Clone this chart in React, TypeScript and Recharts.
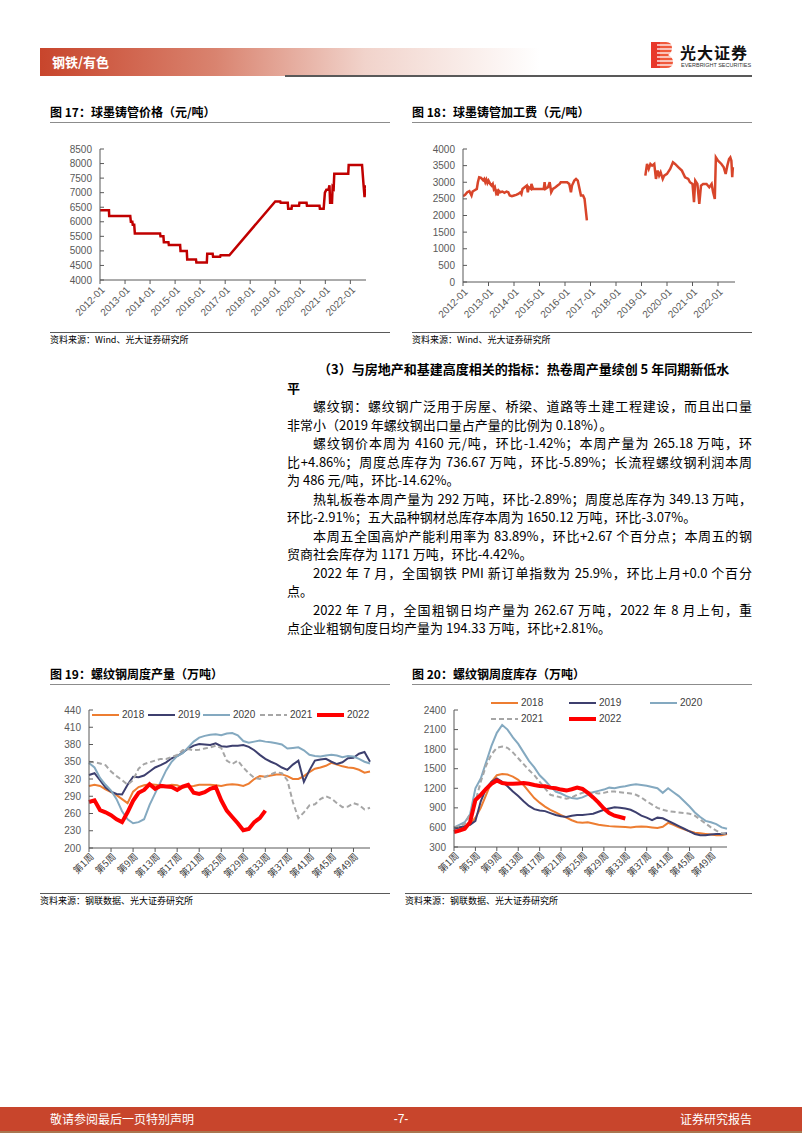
import { Line, LineChart, XAxis, YAxis } from "recharts";

const CJK = '"Noto Sans CJK SC", "Noto Sans", sans-serif';
const NUM = '"Liberation Sans", Arial, sans-serif';

// 图17 / 图18: x 轴为自 2012-01 起的月数
const yearTicks = [0, 12, 24, 36, 48, 60, 72, 84, 96, 108, 120];
const yearLabels = ['2012-01', '2013-01', '2014-01', '2015-01', '2016-01', '2017-01', '2018-01', '2019-01', '2020-01', '2021-01', '2022-01'];

const priceMonth = [0, 4.3, 4.4, 14.5, 14.8, 15.5, 15.7, 16.4, 16.7, 28.8, 29, 30.4, 30.6, 32.8, 33, 38.4, 38.6, 41.6, 41.8, 46, 46.2, 51.2, 51.4, 54, 54.2, 57.6, 57.8, 62, 84, 86.4, 86.6, 90, 90.2, 91.8, 92, 95.4, 95.6, 99, 99.2, 105.2, 105.4, 107.2, 107.8, 108.5, 109.5, 110, 110.3, 111.2, 111.5, 112, 112.3, 119, 119.2, 125.6, 126.4, 126.8, 127.3, 127.5];
const priceValue = [6400, 6400, 6200, 6200, 6000, 6000, 5900, 5900, 5600, 5600, 5500, 5500, 5300, 5300, 5200, 5200, 5000, 5000, 4700, 4700, 4600, 4600, 4900, 4900, 4800, 4800, 4850, 4850, 6700, 6700, 6650, 6650, 6450, 6450, 6550, 6550, 6650, 6650, 6550, 6550, 6450, 6450, 7000, 7100, 7100, 7250, 6650, 6650, 7200, 7150, 7650, 7650, 7950, 7950, 7200, 6850, 7250, 7150];
const priceTicks = [4000, 4500, 5000, 5500, 6000, 6500, 7000, 7500, 8000, 8500];

const feeSeg1: [number, number][] = [[0, 2580], [1, 2620], [2, 2700], [3, 2730], [4, 2600], [4.5, 2720], [5.5, 2760], [6.5, 2800], [7, 3000], [7.6, 3150], [8.5, 3130], [9.5, 3060], [10, 3100], [10.5, 3000], [11, 3080], [11.5, 2980], [12, 3050], [12.8, 2950], [13.5, 2900], [14, 2950], [14.5, 2800], [15, 2850], [15.5, 2700], [16, 2780], [16.3, 2600], [16.8, 2750], [17.5, 2700], [18.5, 2720], [19.5, 2680], [20.5, 2720], [21.3, 2700], [22, 2600], [23, 2580], [24, 2600], [25, 2620], [26, 2650], [27, 2700], [27.5, 2650], [28, 2800], [29, 2850], [30, 2900], [30.5, 2700], [31, 2850], [32, 2800], [32.2, 2950], [33, 2800], [34, 2800], [35, 2800], [36, 2800], [37, 2800], [38, 2800], [38.4, 3000], [38.8, 2800], [40, 2850], [40.8, 3000], [41.5, 2700], [42.3, 2800], [43.5, 2850], [44.5, 2900], [45.5, 2950], [46, 3000], [47, 3000], [48, 3000], [49, 3000], [50, 2950], [50.8, 2700], [51.3, 2900], [52.4, 3050], [53.2, 3100], [54, 3050], [54.5, 2900], [55.5, 2600], [56.5, 2600], [57.2, 2500], [58.3, 1850]];
const feeSeg2: [number, number][] = [[85.8, 3200], [86.6, 3550], [87.4, 3400], [88.2, 3550], [89, 3500], [90, 3550], [90.8, 3100], [91.6, 3350], [92.3, 3200], [93, 3300], [94, 3100], [94.7, 3200], [96, 3250], [97.5, 3400], [98.8, 3600], [99.8, 3550], [101.4, 3450], [103, 3350], [104.5, 3150], [106, 3100], [106.8, 3000], [108, 2950], [108.7, 2400], [109.3, 3050], [110.3, 2950], [111.2, 2350], [112, 2900], [113, 2950], [114.6, 2950], [115.9, 2850], [117, 2950], [117.7, 2700], [118.5, 2500], [119, 3750], [120, 3650], [121.6, 3550], [122.7, 3450], [123.6, 3250], [124.4, 3500], [125.2, 3700], [125.8, 3750], [126.3, 3650], [126.7, 3150], [127, 3450]];
const feeTicks = [0, 500, 1000, 1500, 2000, 2500, 3000, 3500, 4000];

// 图19 / 图20: 周度数据
const weekLabels = Array.from({ length: 52 }, (_, i) => `第${i + 1}周`);

const prod2018 = [308, 310, 308, 302, 297, 292, 285, 278, 298, 306, 309, 311, 310, 309, 308, 310, 309, 305, 307, 308, 310, 310, 310, 309, 308, 310, 311, 310, 308, 312, 320, 325, 324, 326, 328, 328, 325, 320, 320, 325, 332, 338, 340, 343, 348, 345, 342, 340, 339, 336, 331, 333];
const prod2019 = [327, 330, 318, 305, 298, 294, 293, 310, 324, 323, 326, 333, 340, 344, 349, 356, 360, 366, 373, 378, 381, 380, 379, 382, 377, 376, 378, 378, 379, 376, 370, 362, 355, 350, 346, 340, 336, 345, 352, 315, 335, 352, 354, 355, 350, 346, 349, 356, 357, 364, 367, 350];
const prod2020 = [348, 340, 322, 310, 300, 285, 264, 250, 243, 245, 250, 275, 295, 315, 335, 350, 360, 365, 375, 385, 392, 395, 397, 398, 396, 399, 400, 396, 386, 383, 385, 387, 385, 384, 382, 380, 373, 374, 375, 370, 362, 360, 359, 361, 362, 361, 358, 360, 359, 355, 350, 347];
const prod2021 = [350, 349, 347, 344, 333, 325, 318, 310, 318, 338, 346, 349, 352, 355, 355, 358, 362, 370, 372, 370, 371, 373, 375, 378, 374, 352, 346, 352, 340, 330, 322, 320, 324, 328, 332, 330, 318, 280, 252, 262, 274, 276, 285, 290, 286, 278, 271, 272, 278, 275, 267, 270];
const prod2022 = [280, 283, 266, 262, 257, 250, 245, 262, 282, 296, 301, 311, 303, 308, 307, 306, 301, 307, 310, 296, 294, 297, 303, 306, 283, 265, 254, 243, 231, 233, 245, 252, 265];
const prodTicks = [200, 230, 260, 290, 320, 350, 380, 410, 440];

const stock2018 = [580, 600, 620, 650, 750, 900, 1100, 1300, 1400, 1420, 1410, 1380, 1330, 1250, 1150, 1050, 980, 920, 870, 830, 790, 750, 710, 680, 670, 680, 660, 640, 630, 620, 615, 610, 605, 600, 610, 615, 610, 600, 590, 610, 670, 640, 600, 570, 540, 520, 510, 500, 490, 480, 480, 500];
const stock2019 = [580, 600, 620, 640, 700, 1000, 1200, 1300, 1350, 1300, 1230, 1150, 1080, 1000, 930, 880, 860, 850, 820, 790, 770, 760, 780, 790, 790, 800, 810, 840, 870, 890, 910, 900, 890, 870, 830, 780, 750, 710, 750, 740, 700, 660, 620, 580, 540, 500, 480, 480, 490, 500, 500, 510];
const stock2020 = [600, 640, 680, 800, 1200, 1350, 1600, 1850, 2050, 2170, 2100, 1980, 1880, 1750, 1620, 1520, 1400, 1320, 1230, 1150, 1120, 1080, 1050, 1040, 1060, 1100, 1140, 1160, 1180, 1210, 1200, 1220, 1230, 1250, 1260, 1250, 1240, 1220, 1200, 1130, 1200, 1140, 1080, 1000, 920, 830, 760, 700, 680, 650, 600, 580];
const stock2021 = [600, 620, 650, 800, 1000, 1300, 1550, 1720, 1820, 1840, 1820, 1750, 1660, 1570, 1480, 1400, 1300, 1200, 1100, 1080, 1060, 1040, 1060, 1100, 1130, 1140, 1130, 1120, 1130, 1150, 1150, 1140, 1130, 1120, 1100, 1060, 1000, 950, 900, 870, 850, 840, 830, 820, 810, 780, 720, 660, 600, 550, 510, 500];
const stock2022 = [530, 550, 580, 680, 1020, 1100, 1190, 1270, 1320, 1280, 1270, 1270, 1275, 1280, 1270, 1250, 1235, 1230, 1210, 1200, 1180, 1165, 1185, 1210, 1190, 1130, 1060, 980, 890, 820, 780, 760, 737];
const stockTicks = [300, 600, 900, 1200, 1500, 1800, 2100, 2400];

const C2018 = '#ed7d31';
const C2019 = '#3d3f6e';
const C2020 = '#84a9c0';
const C2021 = '#a6a6a6';
const C2022 = '#ff0000';

const priceData = priceMonth.map((t, i) => ({ t, v: priceValue[i] }));
const feeData = [
  ...feeSeg1.map(([t, v]) => ({ t, v })),
  { t: 72, v: null },
  ...feeSeg2.map(([t, v]) => ({ t, v })),
];
const prodData = weekLabels.map((w, i) => ({ w, a: prod2018[i], b: prod2019[i], c: prod2020[i], d: prod2021[i], e: prod2022[i] }));
const stockData = weekLabels.map((w, i) => ({ w, a: stock2018[i], b: stock2019[i], c: stock2020[i], d: stock2021[i], e: stock2022[i] }));

const axisStroke = '#595959';
const tickStyle = { fontSize: 10, fill: '#595959', fontFamily: NUM };

const YearTick = ({ x, y, payload }: any) => {
  const i = yearTicks.indexOf(payload.value);
  return (
    <g transform={`translate(${x + 3},${y + 4})`}>
      <text x={0} y={0} dy="0.35em" textAnchor="end" transform="rotate(-45)" fontSize={10} fill="#595959" fontFamily={NUM}>
        {yearLabels[i]}
      </text>
    </g>
  );
};

const WeekTick = ({ x, y, payload }: any) => (
  <g transform={`translate(${x + 3},${y + 3})`}>
    <text x={0} y={0} dy="0.35em" textAnchor="end" transform="rotate(-45)" fontSize={9.5} fill="#404040" fontFamily={CJK}>
      {payload.value}
    </text>
  </g>
);

const Title = ({ x, y, w, text }: { x: number; y: number; w: number; text: string }) => (
  <div style={{ position: 'absolute', left: x, top: y, width: w, borderBottom: '1.5px solid #8c8c8c', paddingBottom: 2, fontFamily: CJK, fontWeight: 700, fontSize: 12, lineHeight: '16px', color: '#000' }}>
    {text}
  </div>
);

const Source = ({ x, y, w, text }: { x: number; y: number; w: number; text: string }) => (
  <div style={{ position: 'absolute', left: x, top: y, width: w, borderTop: '1px solid #595959', paddingTop: 1, fontFamily: CJK, fontSize: 9, lineHeight: '12px', color: '#000' }}>
    {text}
  </div>
);

const LegendItem = ({ x, y, color, width, dash, label }: any) => (
  <div style={{ position: 'absolute', left: x, top: y - 6, height: 12, display: 'flex', alignItems: 'center' }}>
    <svg width={27} height={8}>
      <line x1={0} y1={4} x2={27} y2={4} stroke={color} strokeWidth={width} strokeDasharray={dash} />
    </svg>
    <span style={{ marginLeft: 3, fontSize: 10, fontFamily: NUM, color: '#404040', lineHeight: '12px' }}>{label}</span>
  </div>
);

const bodyLines = [
  { text: '（3）与房地产和基建高度相关的指标：热卷周产量续创 5 年同期新低水', indent: true, full: false, bold: true },
  { text: '平', indent: false, full: false, bold: true },
  { text: '螺纹钢：螺纹钢广泛用于房屋、桥梁、道路等土建工程建设，而且出口量', indent: true, full: true },
  { text: '非常小（2019 年螺纹钢出口量占产量的比例为 0.18%）。', indent: false, full: false },
  { text: '螺纹钢价本周为 4160 元/吨，环比-1.42%；本周产量为 265.18 万吨，环', indent: true, full: true },
  { text: '比+4.86%；周度总库存为 736.67 万吨，环比-5.89%；长流程螺纹钢利润本周', indent: false, full: true },
  { text: '为 486 元/吨，环比-14.62%。', indent: false, full: false },
  { text: '热轧板卷本周产量为 292 万吨，环比-2.89%；周度总库存为 349.13 万吨，', indent: true, full: true },
  { text: '环比-2.91%；五大品种钢材总库存本周为 1650.12 万吨，环比-3.07%。', indent: false, full: false },
  { text: '本周五全国高炉产能利用率为 83.89%，环比+2.67 个百分点；本周五的钢', indent: true, full: true },
  { text: '贸商社会库存为 1171 万吨，环比-4.42%。', indent: false, full: false },
  { text: '2022 年 7 月，全国钢铁 PMI 新订单指数为 25.9%，环比上月+0.0 个百分', indent: true, full: true },
  { text: '点。', indent: false, full: false },
  { text: '2022 年 7 月，全国粗钢日均产量为 262.67 万吨，2022 年 8 月上旬，重', indent: true, full: true },
  { text: '点企业粗钢旬度日均产量为 194.33 万吨，环比+2.81%。', indent: false, full: false },
];

const Logo = () => (
  <svg width={22} height={26} style={{ position: 'absolute', left: 651, top: 42 }}>
    <rect x={0} y={0} width={9} height={26} fill="#e8382b" />
    <path d="M9 0 H15 Q21 0 21 6 Q21 11 17 13 Q22 15 22 20 Q22 26 15 26 H9 Z" fill="#f05a3c" />
    {[3, 7, 11, 15, 19, 23].map((yy) => (
      <line key={yy} x1={6} y1={yy} x2={22} y2={yy} stroke="#fff" strokeWidth={1.3} />
    ))}
  </svg>
);

export default function App() {
  return (
    <div style={{ position: 'absolute', left: 0, top: 0, width: 802, height: 1133, background: '#fff', overflow: 'hidden', fontFamily: CJK }}>
      {/* 页眉 */}
      <div style={{ position: 'absolute', left: 40, top: 48, width: 500, height: 28, background: 'linear-gradient(to right, #c8452c 0%, #d9836f 35%, #f1d3cb 65%, #ffffff 100%)' }} />
      <div style={{ position: 'absolute', left: 52, top: 53, color: '#fff', fontWeight: 700, fontSize: 13, lineHeight: '18px' }}>钢铁/有色</div>
      <div style={{ position: 'absolute', left: 285, top: 75, width: 467, height: 2, background: '#595959' }} />
      <Logo />
      <div style={{ position: 'absolute', left: 680, top: 42, fontWeight: 700, fontSize: 16, lineHeight: '20px', color: '#111', letterSpacing: 1 }}>光大证券</div>
      <div style={{ position: 'absolute', left: 681, top: 62, fontSize: 5.5, lineHeight: '7px', color: '#333', fontFamily: NUM, whiteSpace: 'nowrap' }}>EVERBRIGHT SECURITIES</div>

      {/* 图17 */}
      <Title x={50} y={104} w={340} text="图 17：球墨铸管价格（元/吨）" />
      <div style={{ position: 'absolute', left: 40, top: 135 }}>
        <LineChart width={345} height={200} data={priceData} margin={{ top: 14, right: 19, bottom: 10, left: 0 }}>
          <XAxis type="number" dataKey="t" domain={[0, 127.5]} ticks={yearTicks} interval={0} height={45} tick={<YearTick />} tickSize={4} tickMargin={0} stroke={axisStroke} allowDataOverflow />
          <YAxis type="number" domain={[4000, 8500]} ticks={priceTicks} interval={0} width={60} tick={tickStyle} tickSize={-4} tickMargin={12} stroke={axisStroke} />
          <Line type="linear" dataKey="v" stroke="#c00000" strokeWidth={2.5} dot={false} isAnimationActive={false} />
        </LineChart>
      </div>
      <Source x={50} y={332} w={340} text="资料来源：Wind、光大证券研究所" />

      {/* 图18 */}
      <Title x={412} y={104} w={340} text="图 18：球墨铸管加工费（元/吨）" />
      <div style={{ position: 'absolute', left: 405, top: 135 }}>
        <LineChart width={345} height={200} data={feeData} margin={{ top: 14, right: 15, bottom: 10, left: 0 }}>
          <XAxis type="number" dataKey="t" domain={[0, 128]} ticks={yearTicks} interval={0} height={43} tick={<YearTick />} tickSize={4} tickMargin={0} stroke={axisStroke} allowDataOverflow />
          <YAxis type="number" domain={[0, 4000]} ticks={feeTicks} interval={0} width={58} tick={tickStyle} tickSize={-4} tickMargin={12} stroke={axisStroke} />
          <Line type="linear" dataKey="v" stroke="#d8452a" strokeWidth={2.5} dot={false} connectNulls={false} isAnimationActive={false} />
        </LineChart>
      </div>
      <Source x={412} y={332} w={340} text="资料来源：Wind、光大证券研究所" />

      {/* 正文 */}
      {bodyLines.map((l, i) => (
        <div
          key={i}
          style={{
            position: 'absolute',
            left: l.indent ? (l.bold ? 318 : 313) : 287,
            top: 360 + i * 18.5,
            width: l.indent ? 439 : 465,
            fontSize: 13,
            lineHeight: '18px',
            fontWeight: l.bold ? 700 : 400,
            color: '#000',
            whiteSpace: 'nowrap',
            textAlign: l.full ? 'justify' : 'left',
            textAlignLast: l.full ? 'justify' : 'left',
          }}
        >
          {l.text}
        </div>
      ))}

      {/* 图19 */}
      <Title x={50} y={666} w={340} text="图 19：螺纹钢周度产量（万吨）" />
      <div style={{ position: 'absolute', left: 40, top: 695 }}>
        <LineChart width={345} height={200} data={prodData} margin={{ top: 15, right: 15, bottom: 10, left: 0 }}>
          <XAxis dataKey="w" interval={3} height={37} tick={<WeekTick />} tickSize={4} tickMargin={0} stroke={axisStroke} />
          <YAxis type="number" domain={[200, 440]} ticks={prodTicks} interval={0} width={49} tick={tickStyle} tickSize={-4} tickMargin={12} stroke={axisStroke} />
          <Line type="linear" dataKey="a" stroke={C2018} strokeWidth={2} dot={false} isAnimationActive={false} />
          <Line type="linear" dataKey="b" stroke={C2019} strokeWidth={2} dot={false} isAnimationActive={false} />
          <Line type="linear" dataKey="c" stroke={C2020} strokeWidth={2} dot={false} isAnimationActive={false} />
          <Line type="linear" dataKey="d" stroke={C2021} strokeWidth={2} strokeDasharray="5 3" dot={false} isAnimationActive={false} />
          <Line type="linear" dataKey="e" stroke={C2022} strokeWidth={4} dot={false} isAnimationActive={false} />
        </LineChart>
      </div>
      <LegendItem x={92} y={715} color={C2018} width={2} label="2018" />
      <LegendItem x={148} y={715} color={C2019} width={2} label="2019" />
      <LegendItem x={203} y={715} color={C2020} width={2} label="2020" />
      <LegendItem x={260} y={715} color={C2021} width={2} dash="5 3" label="2021" />
      <LegendItem x={317} y={715} color={C2022} width={4} label="2022" />
      <Source x={40} y={893} w={350} text="资料来源：钢联数据、光大证券研究所" />

      {/* 图20 */}
      <Title x={412} y={666} w={340} text="图 20：螺纹钢周度库存（万吨）" />
      <div style={{ position: 'absolute', left: 405, top: 695 }}>
        <LineChart width={345} height={200} data={stockData} margin={{ top: 15, right: 23, bottom: 10, left: 0 }}>
          <XAxis dataKey="w" interval={3} height={38} tick={<WeekTick />} tickSize={4} tickMargin={0} stroke={axisStroke} />
          <YAxis type="number" domain={[300, 2400]} ticks={stockTicks} interval={0} width={49} tick={tickStyle} tickSize={-4} tickMargin={12} stroke={axisStroke} />
          <Line type="linear" dataKey="a" stroke={C2018} strokeWidth={2} dot={false} isAnimationActive={false} />
          <Line type="linear" dataKey="b" stroke={C2019} strokeWidth={2} dot={false} isAnimationActive={false} />
          <Line type="linear" dataKey="c" stroke={C2020} strokeWidth={2} dot={false} isAnimationActive={false} />
          <Line type="linear" dataKey="d" stroke={C2021} strokeWidth={2} strokeDasharray="5 3" dot={false} isAnimationActive={false} />
          <Line type="linear" dataKey="e" stroke={C2022} strokeWidth={4} dot={false} isAnimationActive={false} />
        </LineChart>
      </div>
      <LegendItem x={491} y={703} color={C2018} width={2} label="2018" />
      <LegendItem x={569} y={703} color={C2019} width={2} label="2019" />
      <LegendItem x={650} y={703} color={C2020} width={2} label="2020" />
      <LegendItem x={491} y={719} color={C2021} width={2} dash="5 3" label="2021" />
      <LegendItem x={569} y={719} color={C2022} width={4} label="2022" />
      <Source x={405} y={893} w={347} text="资料来源：钢联数据、光大证券研究所" />

      {/* 页脚 */}
      <div style={{ position: 'absolute', left: 0, top: 1107, width: 802, height: 24, background: '#c8452c', borderBottom: '2px solid #a8764f' }} />
      <div style={{ position: 'absolute', left: 50, top: 1111, color: '#fff', fontSize: 12, lineHeight: '16px' }}>敬请参阅最后一页特别声明</div>
      <div style={{ position: 'absolute', left: 381, top: 1111, width: 40, textAlign: 'center', color: '#fff', fontSize: 12, lineHeight: '16px', fontFamily: NUM }}>-7-</div>
      <div style={{ position: 'absolute', left: 652, top: 1111, width: 100, textAlign: 'right', color: '#fff', fontSize: 12, lineHeight: '16px' }}>证券研究报告</div>
    </div>
  );
}
